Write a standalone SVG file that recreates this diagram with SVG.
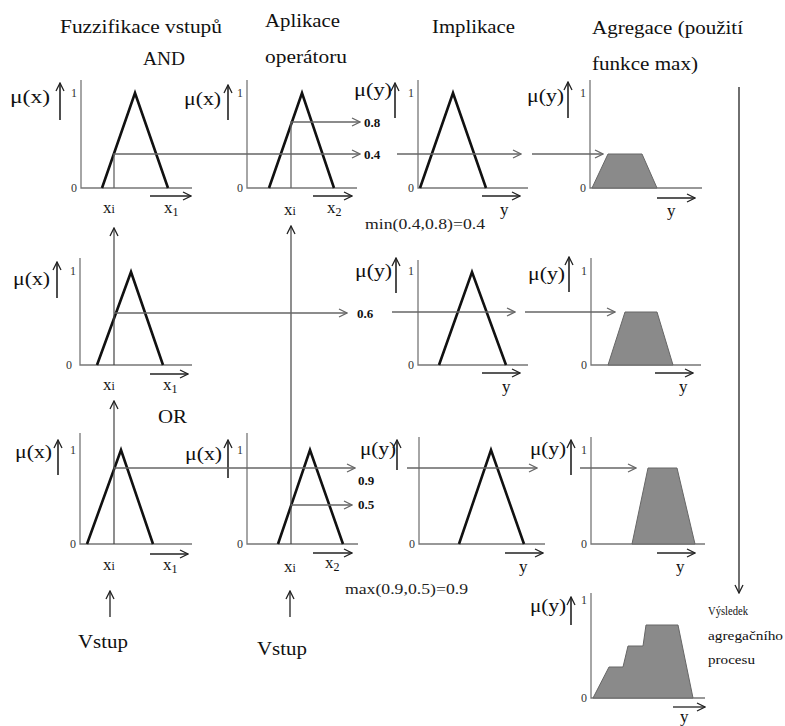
<svg xmlns="http://www.w3.org/2000/svg" width="785" height="726" viewBox="0 0 785 726">
<style>
text{font-family:"Liberation Serif","Times New Roman",serif;fill:#111}
.t{font-size:19px}
.mu{font-size:18px}
.x{font-size:17px}
.n{font-size:12px;fill:#333;text-anchor:end}
.b{font-size:13px;font-weight:bold}
.f{font-size:14px;fill:#222}
.s{font-size:12px}
.ax{stroke:#777;stroke-width:1.3;fill:none}
.tri{stroke:#111;stroke-width:2.6;fill:none;stroke-linejoin:miter}
.ag{fill:#8a8a8a;stroke:#666;stroke-width:1}
.h{stroke:#666;stroke-width:1.3;fill:none;marker-end:url(#mg)}
.ua{stroke:#222;stroke-width:1.6;fill:none;marker-end:url(#mb)}
.da{stroke:#222;stroke-width:1.3;fill:none;marker-end:url(#mb)}
.v{stroke:#444;stroke-width:1.2;fill:none;marker-end:url(#mb)}
</style>
<defs>
<marker id="mg" markerUnits="userSpaceOnUse" markerWidth="10" markerHeight="10" viewBox="0 0 10 10" refX="9" refY="5" orient="auto"><path d="M1,1 L9,5 L1,9" fill="none" stroke="#666" stroke-width="1.3"/></marker>
<marker id="mb" markerUnits="userSpaceOnUse" markerWidth="10" markerHeight="10" viewBox="0 0 10 10" refX="9" refY="5" orient="auto"><path d="M1,1 L9,5 L1,9" fill="none" stroke="#222" stroke-width="1.3"/></marker>
</defs>
<rect width="785" height="726" fill="#fff"/>

<g id="titles">
<text class="t" x="60" y="33" textLength="162" lengthAdjust="spacingAndGlyphs">Fuzzifikace vstupů</text>
<text class="t" x="143" y="65" textLength="42" lengthAdjust="spacingAndGlyphs">AND</text>
<text class="t" x="265" y="27" textLength="75" lengthAdjust="spacingAndGlyphs">Aplikace</text>
<text class="t" x="265" y="63" textLength="82" lengthAdjust="spacingAndGlyphs">operátoru</text>
<text class="t" x="432" y="33" textLength="83" lengthAdjust="spacingAndGlyphs">Implikace</text>
<text class="t" x="592" y="34" textLength="151" lengthAdjust="spacingAndGlyphs">Agregace (použití</text>
<text class="t" x="592" y="70" textLength="106" lengthAdjust="spacingAndGlyphs">funkce max)</text>
<text class="t" x="158" y="423" textLength="29" lengthAdjust="spacingAndGlyphs">OR</text>
</g>

<g id="r1c1">
<path class="ax" d="M81,80 V188 H192"/>
<path class="tri" d="M102,188 L135,93 L168,188"/>
<text class="n" x="77" y="97">1</text><text class="n" x="77" y="192">0</text>
<text class="mu" x="10" y="103" textLength="40" lengthAdjust="spacingAndGlyphs">μ(x)</text>
<path class="ua" d="M60,120 V83"/>
<path class="da" d="M150,196 H191"/>
<text class="x" x="103" y="213">x<tspan font-size="12">i</tspan></text>
<text class="x" x="164" y="213">x<tspan font-size="12" dy="3">1</tspan></text>
</g>

<g id="r1c2">
<path class="ax" d="M247,80 V188 H357"/>
<path class="tri" d="M269,188 L302,93 L334,188"/>
<text class="n" x="243" y="97">1</text><text class="n" x="243" y="192">0</text>
<text class="mu" x="184" y="105" textLength="37" lengthAdjust="spacingAndGlyphs">μ(x)</text>
<path class="ua" d="M228,120 V85"/>
<path class="da" d="M313,196 H352"/>
<text class="x" x="284" y="215">x<tspan font-size="12">i</tspan></text>
<text class="x" x="327" y="213">x<tspan font-size="12" dy="3">2</tspan></text>
</g>

<g id="r1c3">
<path class="ax" d="M418,80 V188 H528"/>
<path class="tri" d="M420,188 L453,93 L486,188"/>
<text class="n" x="414" y="97">1</text><text class="n" x="414" y="192">0</text>
<text class="mu" x="354" y="96" textLength="38" lengthAdjust="spacingAndGlyphs">μ(y)</text>
<path class="ua" d="M395,118 V83"/>
<path class="da" d="M482,196 H520"/>
<text class="x" x="500" y="215">y</text>
</g>

<g id="r1c4">
<path class="ax" d="M590,80 V188 H702"/>
<path class="ag" d="M592,188 L608,154 L642,154 L657,188 Z"/>
<text class="n" x="586" y="97">1</text><text class="n" x="586" y="192">0</text>
<text class="mu" x="527" y="102" textLength="37" lengthAdjust="spacingAndGlyphs">μ(y)</text>
<path class="ua" d="M568,118 V82"/>
<path class="da" d="M657,198 H695"/>
<text class="x" x="667" y="216">y</text>
</g>

<g id="r2c1">
<path class="ax" d="M80,258 V365 H192"/>
<path class="tri" d="M97,365 L131,272 L163,365"/>
<text class="n" x="76" y="275">1</text><text class="n" x="72" y="369">0</text>
<text class="mu" x="13" y="285" textLength="37" lengthAdjust="spacingAndGlyphs">μ(x)</text>
<path class="ua" d="M57,298 V262"/>
<path class="da" d="M150,374 H188"/>
<text class="x" x="103" y="390">x<tspan font-size="12">i</tspan></text>
<text class="x" x="163" y="390">x<tspan font-size="12" dy="3">1</tspan></text>
</g>

<g id="r2c3">
<path class="ax" d="M418,260 V365 H528"/>
<path class="tri" d="M439,365 L472,272 L506,365"/>
<text class="n" x="414" y="275">1</text><text class="n" x="414" y="369">0</text>
<text class="mu" x="355" y="277" textLength="37" lengthAdjust="spacingAndGlyphs">μ(y)</text>
<path class="ua" d="M396,293 V258"/>
<path class="da" d="M482,373 H520"/>
<text class="x" x="502" y="392">y</text>
</g>

<g id="r2c4">
<path class="ax" d="M591,258 V365 H701"/>
<path class="ag" d="M608,365 L625,312 L657,312 L673,365 Z"/>
<text class="n" x="587" y="275">1</text><text class="n" x="587" y="369">0</text>
<text class="mu" x="528" y="280" textLength="37" lengthAdjust="spacingAndGlyphs">μ(y)</text>
<path class="ua" d="M569,292 V257"/>
<path class="da" d="M655,373 H693"/>
<text class="x" x="679" y="392">y</text>
</g>

<g id="r3c1">
<path class="ax" d="M80,433 V544 H192"/>
<path class="tri" d="M87,544 L121,450 L153,544"/>
<text class="n" x="76" y="454">1</text><text class="n" x="76" y="548">0</text>
<text class="mu" x="15" y="458" textLength="37" lengthAdjust="spacingAndGlyphs">μ(x)</text>
<path class="ua" d="M58,475 V440"/>
<path class="da" d="M150,554 H188"/>
<text class="x" x="103" y="570">x<tspan font-size="12">i</tspan></text>
<text class="x" x="163" y="570">x<tspan font-size="12" dy="3">1</tspan></text>
</g>

<g id="r3c2">
<path class="ax" d="M247,433 V544 H358"/>
<path class="tri" d="M278,544 L310,450 L343,544"/>
<text class="n" x="243" y="454">1</text><text class="n" x="243" y="548">0</text>
<text class="mu" x="185" y="460" textLength="37" lengthAdjust="spacingAndGlyphs">μ(x)</text>
<path class="ua" d="M228,478 V440"/>
<path class="da" d="M313,553 H352"/>
<text class="x" x="284" y="572">x<tspan font-size="12">i</tspan></text>
<text class="x" x="325" y="568">x<tspan font-size="12" dy="3">2</tspan></text>
</g>

<g id="r3c3">
<path class="ax" d="M419,437 V544 H545"/>
<path class="tri" d="M459,544 L491,450 L524,544"/>
<text class="n" x="415" y="548">0</text>
<text class="mu" x="360" y="455" textLength="36" lengthAdjust="spacingAndGlyphs">μ(y)</text>
<path class="ua" d="M397,470 V440"/>
<path class="da" d="M505,553 H543"/>
<text class="x" x="519" y="572">y</text>
</g>

<g id="r3c4">
<path class="ax" d="M591,437 V544 H705"/>
<path class="ag" d="M632,544 L648,468 L677,468 L695,544 Z"/>
<text class="n" x="587" y="454">1</text><text class="n" x="587" y="548">0</text>
<text class="mu" x="530" y="455" textLength="36" lengthAdjust="spacingAndGlyphs">μ(y)</text>
<path class="ua" d="M571,475 V440"/>
<path class="da" d="M657,553 H695"/>
<text class="x" x="676" y="572">y</text>
</g>

<g id="r4c4">
<path class="ax" d="M591,593 V698 H705"/>
<path class="ag" d="M593,698 L609,667 L623,667 L628,646 L643,646 L646,625 L678,625 L693,698 Z"/>
<text class="n" x="587" y="604">1</text><text class="n" x="587" y="702">0</text>
<text class="mu" x="530" y="612" textLength="36" lengthAdjust="spacingAndGlyphs">μ(y)</text>
<path class="ua" d="M571,625 V597"/>
<path class="da" d="M673,707 H705"/>
<text class="x" x="680" y="722">y</text>
<text class="s" x="708" y="615" textLength="40" lengthAdjust="spacingAndGlyphs">Výsledek</text>
<text class="s" x="708" y="640" textLength="75" lengthAdjust="spacingAndGlyphs">agregačního</text>
<text class="s" x="708" y="664" textLength="47" lengthAdjust="spacingAndGlyphs">procesu</text>
</g>

<g id="inputs">
<text class="t" x="78" y="648" textLength="50" lengthAdjust="spacingAndGlyphs">Vstup</text>
<text class="t" x="257" y="655" textLength="50" lengthAdjust="spacingAndGlyphs">Vstup</text>
</g>

<g id="values">
<text class="b" x="364" y="127">0.8</text>
<text class="b" x="364" y="159">0.4</text>
<text class="b" x="357" y="318">0.6</text>
<text class="b" x="358" y="485">0.9</text>
<text class="b" x="358" y="509">0.5</text>
<text class="f" x="365" y="229" textLength="120" lengthAdjust="spacingAndGlyphs">min(0.4,0.8)=0.4</text>
<text class="f" x="345" y="594" textLength="123" lengthAdjust="spacingAndGlyphs">max(0.9,0.5)=0.9</text>
</g>

<g id="connectors">
<path class="h" d="M114,188 V154 H360"/>
<path class="h" d="M291,188 V122 H360"/>
<path class="v" d="M291,544 V226"/>
<path class="v" d="M114,365 V228"/>
<path class="v" d="M114,544 V401"/>
<path class="h" d="M114,313 H347"/>
<path class="h" d="M114,468 H355"/>
<path class="h" d="M291,505 H352"/>
<path class="h" d="M397,154 H521"/>
<path class="h" d="M532,154 H603"/>
<path class="h" d="M392,312 H515"/>
<path class="h" d="M525,312 H615"/>
<path class="h" d="M407,468 H537"/>
<path class="h" d="M580,468 H636"/>
<path class="da" d="M110,617 V591"/>
<path class="da" d="M290,617 V591"/>
<path class="da" d="M739,87 V593" stroke-width="1.6"/>
</g>
</svg>
